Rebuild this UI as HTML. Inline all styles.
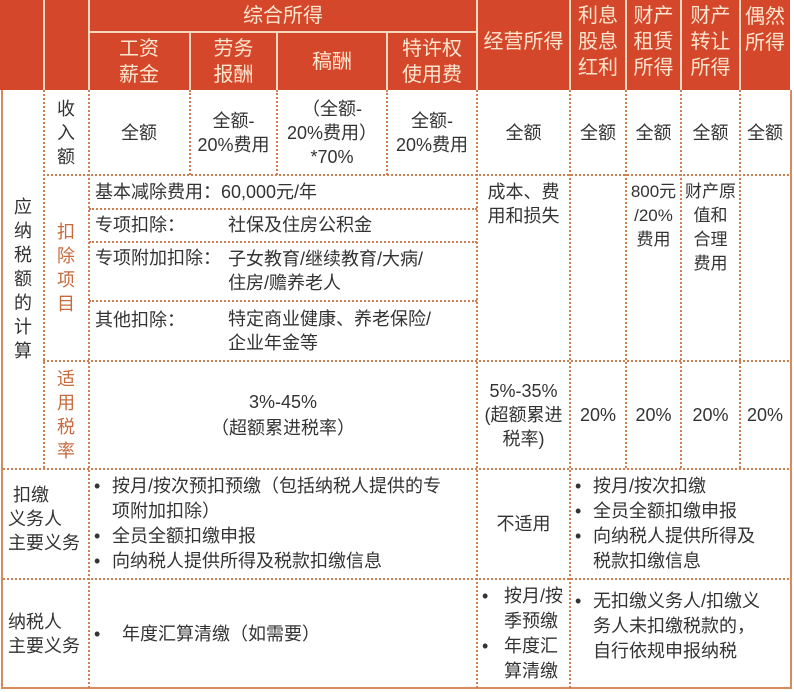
<!DOCTYPE html>
<html><head><meta charset="utf-8">
<style>
body{margin:0;width:794px;height:692px;overflow:hidden;background:#fff;font-family:"Liberation Sans","Noto Sans CJK SC",sans-serif;color:#333;position:relative}
.h{position:absolute;background:#d5472a}
.t{position:absolute;display:flex;align-items:center;justify-content:center;text-align:center;font-size:18px;line-height:24px;white-space:nowrap}
.ht{color:#fbe6d0;font-size:20px;line-height:26px}
.vl{position:absolute;border-left:2px dotted #d08050;width:0}
.hl{position:absolute;border-top:2px dotted #d08050;height:0}
.vh{position:absolute;background:#f3d9c0;width:2px}
.or{color:#c86a3c}
.l{justify-content:flex-start;text-align:left}
ul{margin:0;padding:0;list-style:none}
li{position:relative;padding-left:22px}
li:before{content:"•";position:absolute;left:4px}
</style></head><body>
<div class="h" style="left:0;top:0;width:790px;height:90px"></div>
<div class="vh" style="left:43px;top:0;height:90px"></div>
<div class="vh" style="left:88px;top:0;height:90px"></div>
<div class="vh" style="left:476px;top:0;height:90px"></div>
<div class="vh" style="left:569px;top:0;height:90px"></div>
<div class="vh" style="left:625px;top:0;height:90px"></div>
<div class="vh" style="left:680px;top:0;height:90px"></div>
<div class="vh" style="left:739px;top:0;height:90px"></div>
<div class="vh" style="left:189px;top:31px;height:59px"></div>
<div class="vh" style="left:276px;top:31px;height:59px"></div>
<div class="vh" style="left:386px;top:31px;height:59px"></div>
<div class="vh" style="left:89px;top:31px;width:388px;height:2px"></div>

<div class="t ht" style="left:89px;top:0;width:388px;height:31px">综合所得</div>
<div class="t ht" style="left:89px;top:33px;width:100px;height:57px">工资<br>薪金</div>
<div class="t ht" style="left:190px;top:33px;width:87px;height:57px">劳务<br>报酬</div>
<div class="t ht" style="left:277px;top:33px;width:110px;height:57px">稿酬</div>
<div class="t ht" style="left:387px;top:33px;width:90px;height:57px">特许权<br>使用费</div>
<div class="t ht" style="left:477px;top:0;width:93px;height:84px">经营所得</div>
<div class="t ht" style="left:570px;top:0;width:56px;height:84px">利息<br>股息<br>红利</div>
<div class="t ht" style="left:626px;top:0;width:55px;height:84px">财产<br>租赁<br>所得</div>
<div class="t ht" style="left:681px;top:0;width:59px;height:84px">财产<br>转让<br>所得</div>
<div class="t ht" style="left:740px;top:0;width:50px;height:60px">偶然<br>所得</div>

<div style="position:absolute;left:1px;top:90px;width:787px;height:597px;border:2px solid #d98a5a;border-top:none"></div>

<div class="vl" style="left:43px;top:90px;height:378px"></div>
<div class="vl" style="left:88px;top:90px;height:598px"></div>
<div class="vl" style="left:189px;top:90px;height:85px"></div>
<div class="vl" style="left:276px;top:90px;height:85px"></div>
<div class="vl" style="left:386px;top:90px;height:85px"></div>
<div class="vl" style="left:476px;top:90px;height:598px"></div>
<div class="vl" style="left:569px;top:90px;height:598px"></div>
<div class="vl" style="left:625px;top:90px;height:378px"></div>
<div class="vl" style="left:680px;top:90px;height:378px"></div>
<div class="vl" style="left:739px;top:90px;height:378px"></div>
<div class="hl" style="left:43px;top:174px;width:746px"></div>
<div class="hl" style="left:89px;top:208px;width:388px"></div>
<div class="hl" style="left:89px;top:241px;width:388px"></div>
<div class="hl" style="left:89px;top:300px;width:388px"></div>
<div class="hl" style="left:43px;top:360px;width:746px"></div>
<div class="hl" style="left:3px;top:468px;width:786px"></div>
<div class="hl" style="left:3px;top:578px;width:786px"></div>

<div class="t" style="left:3px;top:90px;width:40px;height:378px;line-height:24px">应<br>纳<br>税<br>额<br>的<br>计<br>算</div>
<div class="t" style="left:44px;top:90px;width:44px;height:85px;line-height:24px">收<br>入<br>额</div>
<div class="t or" style="left:44px;top:175px;width:44px;height:185px;line-height:24px">扣<br>除<br>项<br>目</div>
<div class="t or" style="left:44px;top:361px;width:44px;height:107px;line-height:24px">适<br>用<br>税<br>率</div>
<div class="t l" style="left:8px;top:469px;width:80px;height:109px;line-height:24px;display:block;padding-top:14px">&nbsp;扣缴<br>义务人<br>主要义务</div>
<div class="t l" style="left:8px;top:579px;width:80px;height:109px;line-height:24px">纳税人<br>主要义务</div>

<div class="t" style="left:89px;top:90px;width:100px;height:85px">全额</div>
<div class="t" style="left:190px;top:90px;width:87px;height:85px">全额-<br>20%费用</div>
<div class="t" style="left:277px;top:90px;width:110px;height:85px">（全额-<br>20%费用）<br>*70%</div>
<div class="t" style="left:387px;top:90px;width:90px;height:85px">全额-<br>20%费用</div>
<div class="t" style="left:477px;top:90px;width:93px;height:85px">全额</div>
<div class="t" style="left:570px;top:90px;width:56px;height:85px">全额</div>
<div class="t" style="left:626px;top:90px;width:55px;height:85px">全额</div>
<div class="t" style="left:681px;top:90px;width:59px;height:85px">全额</div>
<div class="t" style="left:740px;top:90px;width:50px;height:85px">全额</div>

<div class="t l" style="left:95px;top:176px;width:380px;height:32px">基本减除费用：60,000元/年</div>
<div class="t l" style="left:95px;top:209px;width:130px;height:32px">专项扣除：</div>
<div class="t l" style="left:228px;top:209px;width:245px;height:32px">社保及住房公积金</div>
<div class="t l" style="left:95px;top:242px;width:130px;height:58px;align-items:flex-start;padding-top:4px">专项附加扣除：</div>
<div class="t l" style="left:228px;top:242px;width:245px;height:58px">子女教育/继续教育/大病/<br>住房/赡养老人</div>
<div class="t l" style="left:95px;top:301px;width:130px;height:59px;align-items:flex-start;padding-top:7px">其他扣除：</div>
<div class="t l" style="left:228px;top:301px;width:245px;height:59px">特定商业健康、养老保险/<br>企业年金等</div>
<div class="t" style="left:477px;top:176px;width:93px;height:56px;line-height:24px">成本、费<br>用和损失</div>
<div class="t" style="left:626px;top:180px;width:55px;height:72px;align-items:flex-start;line-height:24px;font-size:17px">800元<br>/20%<br>费用</div>
<div class="t" style="left:681px;top:180px;width:59px;height:100px;align-items:flex-start;line-height:24px;font-size:17px">财产原<br>值和<br>合理<br>费用</div>

<div class="t" style="left:89px;top:361px;width:388px;height:107px;line-height:26px">3%-45%<br>（超额累进税率）</div>
<div class="t" style="left:477px;top:361px;width:93px;height:107px;line-height:24px">5%-35%<br>(超额累进<br>税率)</div>
<div class="t" style="left:570px;top:361px;width:56px;height:107px">20%</div>
<div class="t" style="left:626px;top:361px;width:55px;height:107px">20%</div>
<div class="t" style="left:681px;top:361px;width:59px;height:107px">20%</div>
<div class="t" style="left:740px;top:361px;width:50px;height:107px">20%</div>

<div class="t l" style="left:90px;top:469px;width:386px;height:109px;line-height:25px"><ul><li>按月/按次预扣预缴（包括纳税人提供的专<br>项附加扣除）</li><li>全员全额扣缴申报</li><li>向纳税人提供所得及税款扣缴信息</li></ul></div>
<div class="t" style="left:477px;top:469px;width:93px;height:109px">不适用</div>
<div class="t l" style="left:571px;top:469px;width:215px;height:109px;line-height:25px"><ul><li>按月/按次扣缴</li><li>全员全额扣缴申报</li><li>向纳税人提供所得及<br>税款扣缴信息</li></ul></div>

<div class="t l" style="left:90px;top:579px;width:386px;height:109px"><ul><li style="padding-left:32px">年度汇算清缴（如需要）</li></ul></div>
<div class="t l" style="left:478px;top:579px;width:92px;height:109px;line-height:25px"><ul><li style="padding-left:26px">按月/按<br>季预缴</li><li style="padding-left:26px">年度汇<br>算清缴</li></ul></div>
<div class="t l" style="left:571px;top:579px;width:212px;height:100px;line-height:25px;align-items:flex-start;padding-top:10px"><ul><li>无扣缴义务人/扣缴义<br>务人未扣缴税款的，<br>自行依规申报纳税</li></ul></div>
</body></html>
